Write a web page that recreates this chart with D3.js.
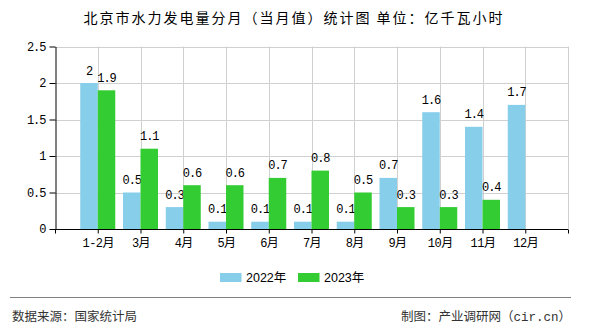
<!DOCTYPE html>
<html><head><meta charset="utf-8">
<script src="https://cdn.jsdelivr.net/npm/d3@7"></script>
<style>body{margin:0;background:#fff}svg{display:block}</style>
</head><body>
<svg id="c" width="590" height="330"></svg>
<script>
const categories = ["1-2月","3月","4月","5月","6月","7月","8月","9月","10月","11月","12月"];
const values2022 = [2,0.5,0.3,0.1,0.1,0.1,0.1,0.7,1.6,1.4,1.7];
const values2023 = [1.9,1.1,0.6,0.6,0.7,0.8,0.5,0.3,0.3,0.4,null];
const seriesNames = ["2022年","2023年"];
const colors = ["#87CEEB","#33CC33"];
const yTicks = [0,0.5,1,1.5,2,2.5];

const svg = d3.select("#c");
const L = 55, R = 568, T = 46.5, B = 229;
const step = (R - L) / 12;
const x = d3.scalePoint().domain(categories).range([L + step, R - step]);
const y = d3.scaleLinear().domain([0, 2.5]).range([B, T]);
const bw = 17.5;
const mono = "'Liberation Mono','Noto Sans CJK SC',monospace";

svg.append("text").attr("x", 294).attr("y", 23).attr("text-anchor","middle")
  .attr("font-family","'Noto Sans CJK SC',sans-serif").attr("font-size",14)
  .attr("letter-spacing","2px").attr("fill","#000")
  .text("北京市水力发电量分月（当月值）统计图 单位：亿千瓦小时");

// grid
const g = svg.append("g");
g.selectAll(".hg").data(yTicks.filter(d=>d>0)).join("line")
  .attr("x1",L).attr("x2",R).attr("y1",d=>Math.round(y(d))+0.5).attr("y2",d=>Math.round(y(d))+0.5)
  .attr("stroke","#d0d0d0");
const vpos = categories.map(c=>x(c)).concat([R]);
g.selectAll(".vg").data(vpos).join("line")
  .attr("x1",d=>Math.round(d)+0.5).attr("x2",d=>Math.round(d)+0.5).attr("y1",T).attr("y2",B)
  .attr("stroke","#d0d0d0");

// bars
const series = [values2022, values2023];
series.forEach((vals, si) => {
  const data = categories.map((c,i)=>({c, v: vals[i]})).filter(d=>d.v!=null);
  svg.append("g").selectAll("rect").data(data).join("rect")
    .attr("x", d => x(d.c) - bw + si*bw)
    .attr("width", bw)
    .attr("y", d => y(d.v))
    .attr("height", d => B - y(d.v))
    .attr("fill", colors[si]);
  svg.append("g").selectAll("text").data(data).join("text")
    .attr("x", d => x(d.c) - bw/2 + si*bw)
    .attr("y", d => y(d.v) - 8.5)
    .attr("text-anchor","middle")
    .attr("font-family", mono).attr("font-size", 12).attr("letter-spacing","-1px")
    .attr("fill","#000")
    .text(d => d.v);
});

// y axis
const ya = svg.append("g").attr("transform",`translate(${L+0.5},0)`)
  .call(d3.axisLeft(y).tickValues(yTicks).tickSize(6).tickSizeOuter(0).tickFormat(d=>d));
ya.select(".domain").attr("stroke","#000");
ya.selectAll(".tick line").attr("stroke","#000");
ya.selectAll("text").attr("font-family",mono).attr("font-size",12).attr("letter-spacing","-1px").attr("fill","#000").attr("dx","-1");

// x axis
const xa = svg.append("g").attr("transform",`translate(0,${B+0.5})`)
  .call(d3.axisBottom(x).tickSize(4).tickSizeOuter(0));
xa.select(".domain").attr("d", `M${L},0H${R}`).attr("stroke","#000");
xa.selectAll(".tick line").attr("stroke","#000");
xa.selectAll("text").attr("font-family",mono).attr("font-size",12).attr("letter-spacing","-0.5px").attr("fill","#000").attr("dy","0.9em");
[L, R].forEach(p => xa.append("line").attr("x1",p+0.5).attr("x2",p+0.5).attr("y1",0).attr("y2",4).attr("stroke","#000"));

// legend
const lg = svg.append("g");
const lx = [220, 298];
seriesNames.forEach((n,i)=>{
  lg.append("rect").attr("x",lx[i]).attr("y",273).attr("width",21.5).attr("height",9).attr("fill",colors[i]);
  lg.append("text").attr("x",lx[i]+26).attr("y",282).attr("font-family","'Liberation Sans','Noto Sans CJK SC',sans-serif")
    .attr("font-size",12.5).attr("fill","#000").text(n);
});

// footer
svg.append("line").attr("x1",10).attr("x2",571).attr("y1",297.5).attr("y2",297.5).attr("stroke","#808080");
svg.append("text").attr("x",12).attr("y",321).attr("font-family","'Noto Sans CJK SC',sans-serif")
  .attr("font-size",12.5).attr("fill","#333").text("数据来源：国家统计局");
svg.append("text").attr("x",571).attr("y",321).attr("text-anchor","end").attr("font-family",mono)
  .attr("font-size",12.5).attr("fill","#333").text("制图：产业调研网（cir.cn）");
</script>
</body></html>
